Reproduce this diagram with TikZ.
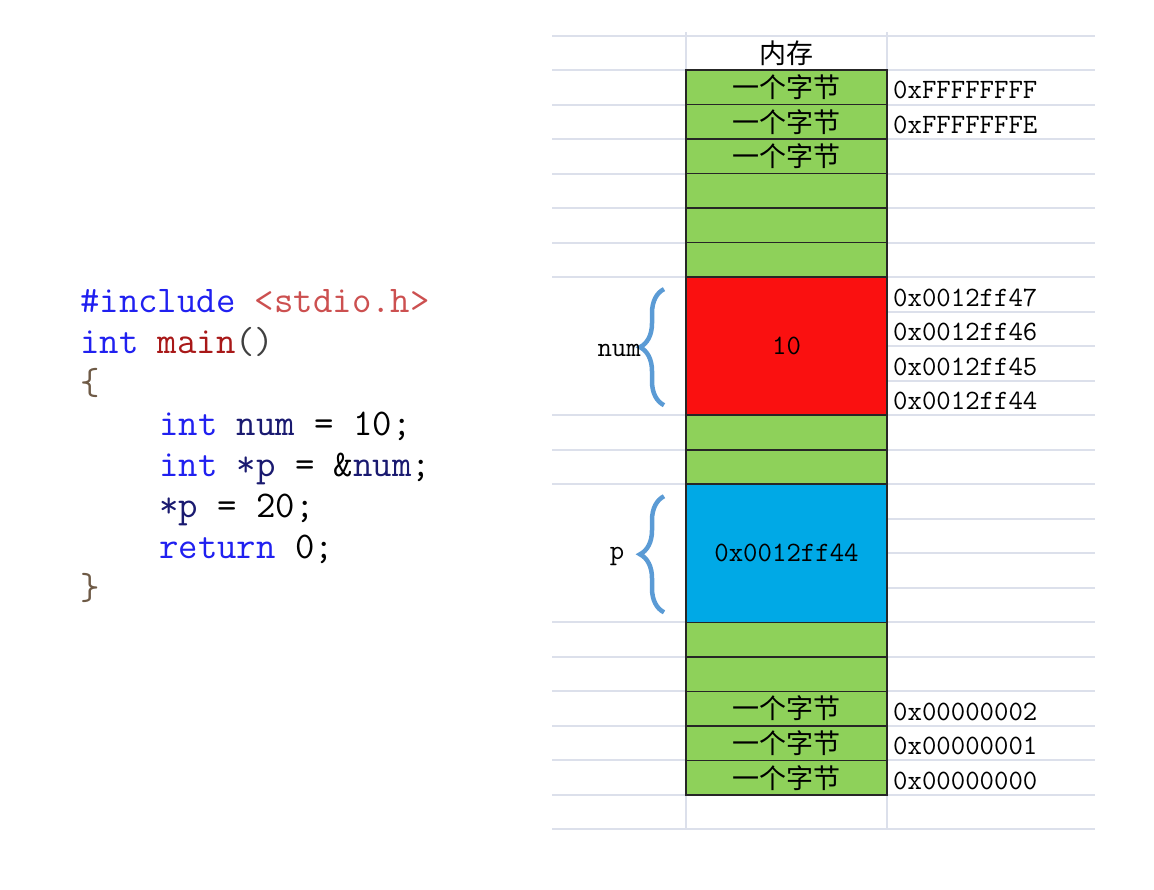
\documentclass[tikz,border=0pt]{standalone}
\usepackage{fontspec}
\newfontfamily\cjk{Noto Sans CJK SC}
\usetikzlibrary{positioning,calc,decorations.pathreplacing}
\definecolor{byteg}{HTML}{8ED15A}
\definecolor{numred}{HTML}{FA1010}
\definecolor{pblue}{HTML}{00A9E6}
\definecolor{gridc}{HTML}{DCE0EB}
\definecolor{bracec}{HTML}{5B9BD5}
\definecolor{kwblue}{HTML}{2020F0}
\definecolor{fnred}{HTML}{A81818}
\definecolor{incred}{HTML}{CC5050}
\definecolor{idnavy}{HTML}{1A1A70}
\definecolor{brk}{HTML}{6E5A46}
\newcommand{\kw}[1]{\textcolor{kwblue}{#1}}
\newcommand{\idn}[1]{\textcolor{idnavy}{#1}}

\begin{document}
\begin{tikzpicture}[x=1pt, y=-1pt,
  gridline/.style={draw=gridc, line width=2pt},
  byte/.style={draw=black!85, line width=1.6pt, fill=byteg, minimum width=201pt,
    minimum height=34.52pt, inner sep=0pt, outer sep=0pt, font=\cjk\fontsize{27}{27}\selectfont},
  block/.style={byte, minimum height=138.08pt, font=\ttfamily\fontsize{28}{28}\selectfont},
  addr/.style={font=\ttfamily\fontsize{28}{28}\selectfont, inner sep=0pt},
  code/.style={font=\ttfamily\fontsize{37.7}{41}\selectfont, inner sep=0pt, anchor=base west},
  varbrace/.style={decorate, decoration={brace, amplitude=24pt}, draw=bracec, line width=4.5pt}]
\useasboundingbox (0,0) rectangle (1154,889);

\draw[gridline] (552,36) -- (1095,36);
\foreach \k in {0,...,6,10,11,12,16,17,...,22}
  \draw[gridline] (552,{70+\k*34.52}) -- (1095,{70+\k*34.52});
\foreach \k in {7,8,9,13,14,15}
  \draw[gridline] (887,{70+\k*34.52}) -- (1095,{70+\k*34.52});
\draw[gridline] (686,32) -- (686,830);
\draw[gridline] (887,32) -- (887,830);

\node[font=\cjk\fontsize{27}{27}\selectfont] (head) at (786.5,53) {内存};

\node[byte, anchor=north west] (b1) at (686,70) {一个字节};
\node[byte, below=0pt of b1] (b2) {一个字节};
\node[byte, below=0pt of b2] (b3) {一个字节};
\node[byte, below=0pt of b3] (b4) {};
\node[byte, below=0pt of b4] (b5) {};
\node[byte, below=0pt of b5] (b6) {};
\node[block, fill=numred, below=0pt of b6] (num) {10};
\node[byte, below=0pt of num] (b7) {};
\node[byte, below=0pt of b7] (b8) {};
\node[block, fill=pblue, below=0pt of b8] (p) {0x0012ff44};
\node[byte, below=0pt of p] (b9) {};
\node[byte, below=0pt of b9] (b10) {};
\node[byte, below=0pt of b10] (b11) {一个字节};
\node[byte, below=0pt of b11] (b12) {一个字节};
\node[byte, below=0pt of b12] (b13) {一个字节};

\node[addr, anchor=west] (a1) at ($(b1.east)+(6,3)$) {0xFFFFFFFF};
\node[addr, anchor=west] (a2) at ($(b2.east)+(6,3)$) {0xFFFFFFFE};
\node[addr, anchor=west] (a47) at ($(num.north east)+(6,20.3)$) {0x0012ff47};
\node[addr, anchor=west] (a46) at ($(num.north east)+(6,54.8)$) {0x0012ff46};
\node[addr, anchor=west] (a45) at ($(num.north east)+(6,89.3)$) {0x0012ff45};
\node[addr, anchor=west] (a44) at ($(num.north east)+(6,123.8)$) {0x0012ff44};
\node[addr, anchor=west] (a02) at ($(b11.east)+(6,3)$) {0x00000002};
\node[addr, anchor=west] (a01) at ($(b12.east)+(6,3)$) {0x00000001};
\node[addr, anchor=west] (a00) at ($(b13.east)+(6,3)$) {0x00000000};

\draw[varbrace] ($(num.south west)+(-22,-10)$) -- ($(num.north west)+(-22,12)$);
\draw[varbrace] ($(p.south west)+(-22,-10)$) -- ($(p.north west)+(-22,12)$);
\node[addr, anchor=east] (numname) at (641,350) {num};
\node[addr] (pname) at (617,556) {p};

\node[code] (l1) at (80,312) {\kw{\#include} \textcolor{incred}{<stdio.h>}};
\node[code] (l2) at (80,353) {\kw{int} \textcolor{fnred}{main}\textcolor{black!75}{()}};
\node[code] (l3) at (80,394) {\textcolor{brk}{\{}};
\node[code] (l4) at (159,435) {\kw{int} \idn{num} = 10;};
\node[code] (l5) at (159,476) {\kw{int} \idn{*p} = \&\idn{num};};
\node[code] (l6) at (159,517) {\idn{*p} = 20;};
\node[code] (l7) at (159,558) {\kw{return} 0;};
\node[code] (l8) at (80,599) {\textcolor{brk}{\}}};
\end{tikzpicture}
\end{document}
